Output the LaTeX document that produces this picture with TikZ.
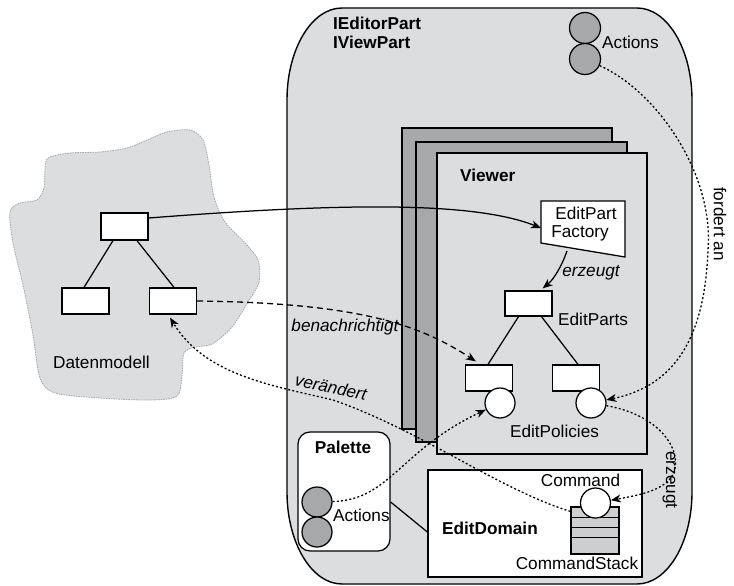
\documentclass[tikz,border=0pt]{standalone}
\usepackage{fontspec}
\setmainfont{Liberation Sans}
\usetikzlibrary{arrows.meta,calc}
\definecolor{panel}{HTML}{DCDDDF}
\definecolor{sheet}{HTML}{A7A8AA}
\definecolor{stackfill}{HTML}{CDCED0}
\definecolor{cloudfill}{HTML}{DCDDDF}
\definecolor{cloudedge}{HTML}{A4A5A7}
\begin{document}
\begin{tikzpicture}[x=1pt,y=-1pt,
  font=\fontsize{17.2}{19}\selectfont,
  every node/.style={inner sep=0pt},
  bold/.style={font=\fontsize{17.2}{19}\selectfont\bfseries},
  slanted/.style={font=\fontsize{17.2}{19}\selectfont\itshape},
  box/.style={draw, fill=white, line width=1.25pt, minimum width=47pt, minimum height=26pt},
  ball/.style={circle, draw, fill=white, line width=1.25pt, minimum size=30pt},
  darkball/.style={ball, fill=sheet},
  link/.style={line width=1.25pt},
  dotlink/.style={line width=1.3pt, dash pattern=on 2pt off 2.2pt},
  dashlink/.style={line width=1.3pt, dash pattern=on 6pt off 4pt},
  tip/.style={-{Stealth[length=10pt,width=8pt,inset=3pt]}}
]
\useasboundingbox (0,0) rectangle (734,586);
\fill[white] (0,0) rectangle (734,586);

% data model cloud
\draw[fill=cloudfill, draw=cloudedge, dash pattern=on 1.5pt off 1pt, line width=0.8pt]
  plot[smooth cycle, tension=0.5] coordinates {
  (48,158) (70,153) (100,152) (127,148) (147,140) (167,132) (190,130) (203,140)
  (209,165) (214,197) (225,222) (245,243) (258,260) (259,282) (248,302) (232,327)
  (212,344) (195,347) (184,353) (182,375) (177,396) (150,400) (100,398) (55,393)
  (40,378) (33,335) (23,285) (13,243) (10,212) (20,203) (37,200) (44,188) (45,170)};

% editor / view part
\draw[fill=panel, line width=1.4pt]
  (342,8) -- (637,8) .. controls (667.4,8) and (692,49.2) .. (692,100)
  -- (692,492) .. controls (692,542.8) and (667.4,584) .. (637,584)
  -- (342,584) .. controls (311.6,584) and (287,542.8) .. (287,492)
  -- (287,100) .. controls (287,49.2) and (311.6,8) .. (342,8) -- cycle;
\node[bold, anchor=west] (iep) at (333,23) {IEditorPart};
\node[bold, anchor=west] (ivp) at (333,42) {IViewPart};
\node[darkball, minimum size=31pt] (act1) at (585,28) {};
\node[darkball, minimum size=31pt] (act2) at (585,59) {};
\node[anchor=west] (actlbl) at (602,42) {Actions};

% stacked viewers
\draw[fill=sheet, line width=1.25pt] (402,128) rectangle (612,429);
\draw[fill=sheet, line width=1.25pt] (416,142) rectangle (627,442);
\draw[fill=panel, line width=1.25pt] (437,153) rectangle (647,454);
\node[bold, anchor=west] (viewer) at (460,175) {Viewer};

% edit part factory
\draw[fill=white, line width=1.25pt] (541,201) -- (625,201) -- (625,257) -- (541,243) -- cycle;
\node (fac1) at (586,213) {EditPart};
\node (fac2) at (580,233) {Factory};
\coordinate (facin) at (541,228);
\coordinate (facout) at (567,251);

% edit parts with policies
\node[box, minimum height=25pt] (epT) at (528.5,303.5) {};
\node[box] (epL) at (489,378) {};
\node[box] (epR) at (576,378) {};
\draw[link] ($(epT.south)+(-10,0)$) -- ($(epL.north)+(-1,0)$);
\draw[link] ($(epT.south)+(13,0)$) -- ($(epR.north)+(2,0)$);
\node[ball] (pc1) at (500,403) {};
\node[ball] (pc2) at (591,403) {};
\node[anchor=west] (eplbl) at (558,319) {EditParts};
\node (pollbl) at (554.5,431) {EditPolicies};
\draw[link, tip] (facout) .. controls (561,268) and (553,280) .. ($(epT.north east)+(-10,-2)$);
\node[slanted] (erz1) at (591,273) {erzeugt};

% palette
\node[draw, fill=white, line width=1.25pt, rounded corners=12pt,
  minimum width=92pt, minimum height=119pt] (pal) at (344,491.5) {};
\node[bold] (pallbl) at (343,447) {Palette};
\node[darkball] (pa1) at (317,502) {};
\node[darkball] (pa2) at (317,532) {};
\node[anchor=west] (palact) at (333,515) {Actions};

% edit domain
\node[draw, fill=white, line width=1.25pt, minimum width=214pt, minimum height=107pt] (dom) at (535,523.5) {};
\draw[link] ($(pal.east)+(0,10.5)$) -- ($(dom.west)+(0,8.5)$);
\node[bold] (domlbl) at (490,528) {EditDomain};
\node[draw, fill=stackfill, line width=1.25pt, minimum width=48pt, minimum height=47pt] (cs) at (595,530.5) {};
\draw[link] ($(cs.north west)+(0,11)$) -- ($(cs.north east)+(0,11)$);
\draw[link] ($(cs.north west)+(0,21)$) -- ($(cs.north east)+(0,21)$);
\draw[link] ($(cs.north west)+(0,31)$) -- ($(cs.north east)+(0,31)$);
\node[ball] (cmd) at (595.5,503) {};
\node (cmdlbl) at (580.5,480) {Command};
\node (cslbl) at (577,563) {CommandStack};

% data model tree
\node[box, minimum height=27pt] (m0) at (124.5,226.5) {};
\node[box] (m1) at (85.5,301) {};
\node[box] (m2) at (173,301) {};
\draw[link] ($(m0.south)+(-11.5,0)$) -- ($(m1.north)+(-1.5,0)$);
\draw[link] ($(m0.south)+(12.5,0)$) -- ($(m2.north)+(1,0)$);
\node (dm) at (101.5,362) {Datenmodell};

% connectors
\draw[link, tip] ($(m0.east)+(0,-8.5)$) .. controls (330,204) and (470,200) .. (facin);
\draw[dashlink, tip] (m2.east) .. controls (360,303) and (420,325) .. ($(epL.north west)+(11,-3)$);
\node[slanted] (ben) at (345,327) {benachrichtigt};
\draw[dotlink, tip] ($(cs.north west)+(0,5)$) .. controls (500,490) and (420,430) .. (333,400)
  .. controls (270,385) and (205,375) .. ($(m2.south)+(-3,3)$);
\node[slanted, rotate=-12] (ver) at (331,387) {verändert};
\draw[dotlink, tip] (pa1) .. controls (390,500) and (400,450) .. (pc1);
\draw[dotlink, tip] (act2) .. controls (658,92) and (714,175) .. (708,250)
  .. controls (705,330) and (680,385) .. (pc2);
\node[rotate=-90] (ford) at (720,224) {fordert an};
\draw[dotlink, tip] (pc2) .. controls (660,415) and (682,450) .. (674,472)
  .. controls (667,490) and (640,495) .. (cmd);
\node[rotate=-90] (erz2) at (670,480) {erzeugt};
\end{tikzpicture}
\end{document}
